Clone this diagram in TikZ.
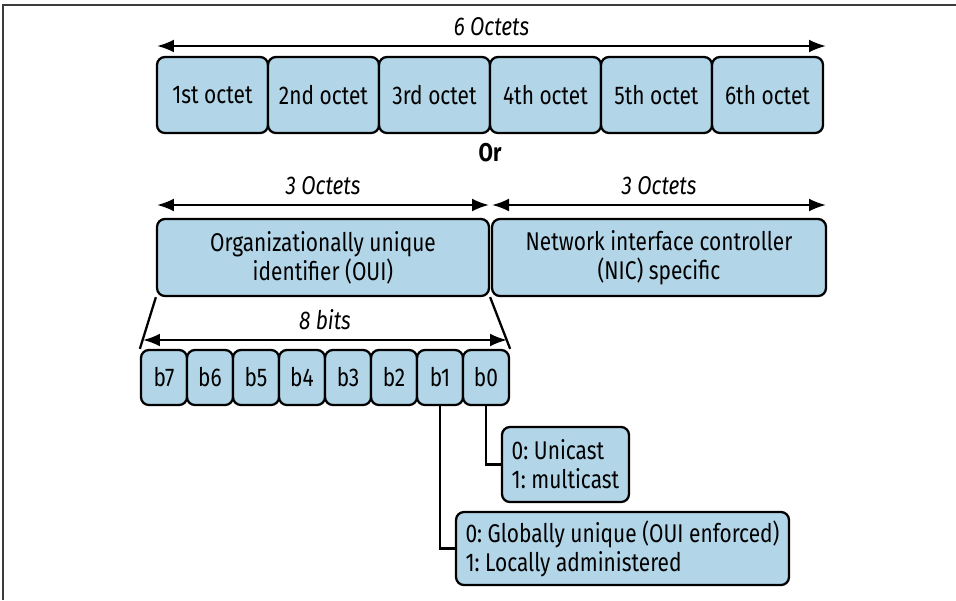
\documentclass[tikz,border=0pt]{standalone}
\usepackage{fontspec}
\setmainfont{Fira Sans}[FakeStretch=0.815]
\usetikzlibrary{arrows.meta}
\definecolor{boxblue}{RGB}{178,213,232}
\definecolor{framegray}{RGB}{60,60,60}
\frenchspacing
\begin{document}
\begin{tikzpicture}[x=0.02cm,y=-0.02cm,
  bx/.style={draw=black, fill=boxblue, line width=1.3pt, rounded corners=4.5pt,
             inner sep=0pt, font=\fontsize{14.6}{16.5}\selectfont, align=center},
  dim/.style={{Latex[length=3.4mm,width=2.6mm]}-{Latex[length=3.4mm,width=2.6mm]}, line width=1.3pt},
  lbl/.style={font=\fontsize{14.6}{16.5}\selectfont\itshape, inner sep=0pt},
  conn/.style={line width=1.3pt}]
\useasboundingbox (0,0) rectangle (956,600);
\draw[line width=1.1pt, framegray] (3,600) -- (3,5) -- (956,5);

% six octets
\foreach \i/\t [count=\k from 0] in {1/1st,2/2nd,3/3rd,4/4th,5/5th,6/6th}{
  \node[bx, minimum width=2.22cm, minimum height=1.52cm] (o\i) at (212.5+111*\k,95) {\t\ octet};
}
\coordinate (d6l) at (157,46);
\coordinate (d6r) at (826,46);
\draw[dim] (d6l) -- node[lbl, above=5pt] (l6) {6 Octets} (d6r);

\node[font=\fontsize{14.6}{16.5}\selectfont\bfseries] (or) at (490,153) {Or};

% OUI / NIC
\node[bx, minimum width=6.64cm, minimum height=1.54cm] (oui) at (323,257.5)
  {Organizationally unique\\identifier (OUI)};
\node[bx, minimum width=6.68cm, minimum height=1.54cm] (nic) at (659,257.5)
  {Network interface controller\\(NIC) specific};
\coordinate (d3a) at (157,205);
\coordinate (d3b) at (489,205);
\coordinate (d3c) at (492,205);
\coordinate (d3d) at (826,205);
\draw[dim] (d3a) -- node[lbl, above=5pt] (l3a) {3 Octets} (d3b);
\draw[dim] (d3c) -- node[lbl, above=5pt] (l3b) {3 Octets} (d3d);

% bits
\foreach \b [count=\k from 0] in {7,6,5,4,3,2,1,0}{
  \node[bx, minimum width=0.92cm, minimum height=1.1cm] (b\b) at (164+46*\k,377.5) {b\b};
}
\draw[conn] (oui.south west) -- (b7.north west);
\draw[conn] (oui.south east) -- (b0.north east);
\coordinate (d8l) at (143,340);
\coordinate (d8r) at (507,340);
\draw[dim] (d8l) -- node[lbl, above=5pt] (l8) {8 bits} (d8r);

% explanations
\node[bx, minimum width=2.54cm, minimum height=1.5cm, align=left]
  (uni) at (565.5,464.5) {0: Unicast\\1: multicast};
\node[bx, minimum width=6.66cm, minimum height=1.46cm, align=left]
  (glob) at (622.5,548.5) {0: Globally unique (OUI enforced)\\1: Locally administered};
\draw[conn] (b0.south) |- (uni.west);
\draw[conn] (b1.south) |- (glob.west);
\end{tikzpicture}
\end{document}
